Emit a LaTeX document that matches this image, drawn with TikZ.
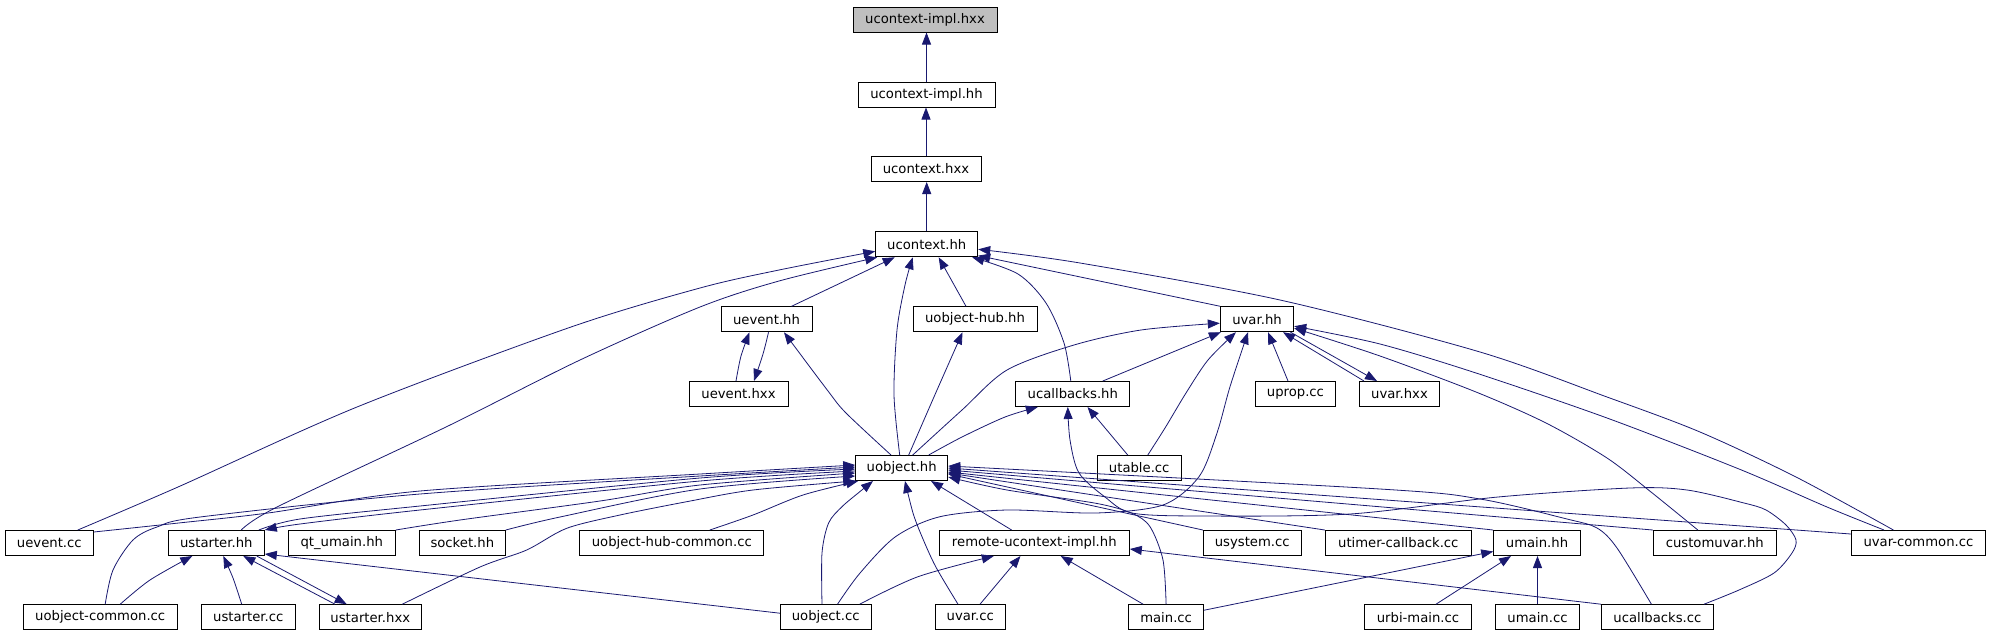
\documentclass[tikz,border=0pt]{standalone}
\usepackage{fontspec}
\setmainfont{DejaVu Sans}
\usetikzlibrary{arrows.meta}
\definecolor{edgeblue}{HTML}{191970}
\definecolor{rootgray}{HTML}{BFBFBF}
\begin{document}
\begin{tikzpicture}[x=1pt,y=-1pt,
  filebox/.style={draw=black,line width=1pt,rectangle,minimum height=25pt,inner sep=0pt,fill=white,font=\fontsize{13.2}{15}\selectfont},
  rootbox/.style={filebox,fill=rootgray},
  dep/.style={draw=edgeblue,line width=0.8pt,-{Triangle[length=12pt,width=9pt]}}
]
\useasboundingbox (0,0) rectangle (1989,635);

% nodes
\node[rootbox,minimum width=144pt] (ctxihxx) at (925,19.5) {ucontext-impl.hxx};
\node[filebox,minimum width=137pt] (ctxihh) at (926.5,94.5) {ucontext-impl.hh};
\node[filebox,minimum width=110pt] (ctxhxx) at (926,169) {ucontext.hxx};
\node[filebox,minimum width=102pt] (ctxhh) at (926.7,244.3) {ucontext.hh};

\node[filebox,minimum width=91pt] (uevhh) at (766.5,319.3) {uevent.hh};
\node[filebox,minimum width=124pt] (uobhubhh) at (975,319.3) {uobject-hub.hh};
\node[filebox,minimum width=73.4pt] (uvarhh) at (1257,319.2) {uvar.hh};

\node[filebox,minimum width=99pt] (uevhxx) at (738.5,394) {uevent.hxx};
\node[filebox,minimum width=114pt] (ucbhh) at (1072.8,394) {ucallbacks.hh};
\node[filebox,minimum width=80pt] (upropcc) at (1295.4,394) {uprop.cc};
\node[filebox,minimum width=80pt] (uvarhxx) at (1399.5,394) {uvar.hxx};

\node[filebox,minimum width=92pt] (uobhh) at (901.7,468) {uobject.hh};
\node[filebox,minimum width=84pt] (utablecc) at (1139.2,468) {utable.cc};

\node[filebox,minimum width=88pt] (uevcc) at (49.3,543) {uevent.cc};
\node[filebox,minimum width=96pt] (ustahh) at (216.3,543) {ustarter.hh};
\node[filebox,minimum width=107pt] (qtumain) at (341.8,543) {qt\_umain.hh};
\node[filebox,minimum width=86pt] (sockethh) at (462.3,543) {socket.hh};
\node[filebox,minimum width=184.3pt] (uobhubcc) at (671.8,543) {uobject-hub-common.cc};
\node[filebox,minimum width=190pt] (remotehh) at (1034.3,543) {remote-ucontext-impl.hh};
\node[filebox,minimum width=97.7pt] (usyscc) at (1252.2,543) {usystem.cc};
\node[filebox,minimum width=146pt] (utimercc) at (1398.3,543) {utimer-callback.cc};
\node[filebox,minimum width=86.6pt] (umainhh) at (1537,543) {umain.hh};
\node[filebox,minimum width=123pt] (customhh) at (1714.8,543) {customuvar.hh};
\node[filebox,minimum width=134pt] (uvarcomcc) at (1918.4,543) {uvar-common.cc};

\node[filebox,minimum width=153.7pt] (uobcomcc) at (100.2,617.2) {uobject-common.cc};
\node[filebox,minimum width=94pt] (ustacc) at (248.3,617.2) {ustarter.cc};
\node[filebox,minimum width=102pt] (ustahxx) at (370.3,617.2) {ustarter.hxx};
\node[filebox,minimum width=90.6pt] (uobcc) at (825.7,617.2) {uobject.cc};
\node[filebox,minimum width=70pt] (uvarcc) at (970.3,617.2) {uvar.cc};
\node[filebox,minimum width=75pt] (maincc) at (1166.1,617.2) {main.cc};
\node[filebox,minimum width=106.8pt] (urbicc) at (1418,617.2) {urbi-main.cc};
\node[filebox,minimum width=84pt] (umaincc) at (1537.5,617.2) {umain.cc};
\node[filebox,minimum width=112pt] (ucbcc) at (1657.4,617.2) {ucallbacks.cc};

% edges: top chain
\draw[dep] (ctxihh.north) -- (ctxihh.north |- ctxihxx.south);
\draw[dep] (ctxhxx.north) -- (ctxhxx.north |- ctxihh.south);
\draw[dep] (ctxhh.north) -- (ctxhh.north |- ctxhxx.south);

% into ucontext.hh
\draw[dep] plot[smooth] coordinates {([xshift=-16pt]uevcc.north east) (178,487) (357,407) (571,327) (700,288) (779,270) ([yshift=-7pt]ctxhh.west)};
\draw[dep] plot[smooth] coordinates {([xshift=25pt]ustahh.north) (277,507) (446,427) (580,360) (700,307) (779,281) ([xshift=2pt]ctxhh.south west)};
\draw[dep] ([xshift=25pt]uevhh.north) -- ([xshift=-32pt]ctxhh.south);
\draw[dep] plot[smooth] coordinates {([xshift=-2pt]uobhh.north) (894,395) (897,330) (905,285) ([xshift=-14pt]ctxhh.south)};
\draw[dep] ([xshift=-9pt]uobhubhh.north) -- ([xshift=12pt]ctxhh.south);
\draw[dep] plot[smooth] coordinates {([xshift=-2pt]ucbhh.north) (1064,343) (1046,303) (1018,274) ([xshift=-6pt]ctxhh.south east)};
\draw[dep] (uvarhh.north west) -- ([yshift=1.7pt]ctxhh.south east);
\draw[dep] plot[smooth] coordinates {([xshift=-25pt]uvarcomcc.north) (1796,477) (1700,432) (1607,397) (1480,352) (1280,300) (1080,263) ([yshift=-5pt]ctxhh.east)};

% uevent pair
\draw[dep] plot[smooth] coordinates {([xshift=-2.5pt]uevhxx.north) (741,356) ([xshift=-17pt]uevhh.south)};
\draw[dep] plot[smooth] coordinates {([xshift=2pt]uevhh.south) (763,354) ([xshift=15.5pt]uevhxx.north)};

% from uobject.hh upward
\draw[dep] plot[smooth] coordinates {([xshift=-10.7pt]uobhh.north) (846,413) (828,391) ([xshift=17.5pt]uevhh.south)};
\draw[dep] plot[smooth] coordinates {([xshift=7pt]uobhh.north) (935.7,393) ([xshift=-12.5pt]uobhubhh.south)};
\draw[dep] plot[smooth] coordinates {([xshift=11pt]uobhh.north) (962,410) (1007,370) (1074,345) (1141,330) ([yshift=-4pt]uvarhh.west)};
\draw[dep] plot[smooth] coordinates {([xshift=27pt]uobhh.north) (962,437) (1005,417) ([xshift=-35pt]ucbhh.south)};

% ucallbacks.hh / uvar.hh
\draw[dep] ([xshift=-11.5pt]utablecc.north) -- ([xshift=14.7pt]ucbhh.south);
\draw[dep] ([xshift=30pt]ucbhh.north) -- ([xshift=1pt]uvarhh.south west);
\draw[dep] plot[smooth] coordinates {([xshift=8.6pt]utablecc.north) (1165,428) (1186,393) (1208,360) ([xshift=-21pt]uvarhh.south)};
\draw[dep] plot[smooth] coordinates {([xshift=11.8pt]uobcc.north) (859.8,573.3) (895.5,536.7) (940,516.7) (1007,510) (1096,513) (1163,505) (1199,476.7) (1217,433) (1230,386.7) ([xshift=-9pt]uvarhh.south)};
\draw[dep] ([xshift=-7.4pt]upropcc.north) -- ([xshift=11pt]uvarhh.south);
\draw[dep] ([xshift=5pt]uvarhxx.north west) -- ([xshift=26pt]uvarhh.south);
\draw[dep] ([xshift=-3.7pt]uvarhh.south east) -- ([xshift=-22.5pt]uvarhxx.north);
\draw[dep] plot[smooth] coordinates {([xshift=-17pt]customhh.north) (1651,492) (1607,458) (1546,423) (1476,392) (1380,356) ([yshift=-9pt]uvarhh.east)};
\draw[dep] plot[smooth] coordinates {([xshift=-34.4pt]uvarcomcc.north) (1827,507) (1739,469) (1607,418) (1476,373) (1380,344) ([yshift=-7pt]uvarhh.east)};

% left side into uobject.hh
\draw[dep] plot[smooth] coordinates {([yshift=-3pt]uobhh.west) (700,481) (420,510) (300,524) (ustahh.north east)};
\draw[dep] plot[smooth] coordinates {([xshift=-6pt]ustahh.north east) (300,519) (420,506) (700,478) ([yshift=-1pt]uobhh.west)};
\draw[dep] plot[smooth] coordinates {([yshift=11pt]uevcc.east) (178.6,523) (268,513) (420,491) (700,474) ([yshift=3pt]uobhh.west)};
\draw[dep] plot[smooth] coordinates {([xshift=5pt]uobcomcc.north) (113,570) (133,540) (157,527) (200,517) (420,494) (700,476) ([yshift=1pt]uobhh.west)};
\draw[dep] plot[smooth] coordinates {(qtumain.north east) (460,520) (600,501) (700,485) ([yshift=-5pt]uobhh.west)};
\draw[dep] plot[smooth] coordinates {(sockethh.north east) (560,517) (700,489) ([yshift=-8pt]uobhh.west)};
\draw[dep] plot[smooth] coordinates {([xshift=32pt]ustahxx.north) (480,567) (526.7,550) (566.7,528.3) (620,515) (686.7,501.7) (753,490) (uobhh.south west)};
\draw[dep] plot[smooth] coordinates {([xshift=38pt]uobhubcc.north) (753,515) (803,495) ([xshift=3pt]uobhh.south west)};

% bottom into uobject.hh
\draw[dep] plot[smooth] coordinates {([xshift=-3.7pt]uobcc.north) (822,553) (828.6,523) (842,506.7) (859.8,491.7) ([xshift=-28.7pt]uobhh.south)};
\draw[dep] plot[smooth] coordinates {([xshift=-12.3pt]uvarcc.north) (935.7,566.7) (922,536.7) (913,513) ([xshift=3.3pt]uobhh.south)};
\draw[dep] ([xshift=-22.7pt]remotehh.north) -- ([xshift=29.3pt]uobhh.south);

% right side into uobject.hh
\draw[dep] (usyscc.north west) -- ([yshift=-6pt]uobhh.east);
\draw[dep] (utimercc.north west) -- ([yshift=-5pt]uobhh.east);
\draw[dep] (umainhh.north west) -- ([yshift=-4pt]uobhh.east);
\draw[dep] (customhh.north west) -- ([yshift=-2pt]uobhh.east);
\draw[dep] ([yshift=9pt]uvarcomcc.west) -- (uobhh.east);
\draw[dep] plot[smooth] coordinates {([xshift=-6pt]ucbcc.north) (1617,548) (1597,528) (1567,519) (1480,499) (1380,489) ([yshift=2pt]uobhh.east)};
\draw[dep] plot[smooth] coordinates {(maincc.north) (1163,560) (1150,526.7) (1132,513.3) (1096,503.3) (1007,490) ([yshift=-9pt]uobhh.east)};

% remote-ucontext-impl.hh
\draw[dep] plot[smooth] coordinates {([xshift=34pt]uobcc.north) (918,576.7) ([xshift=-40.5pt]remotehh.south)};
\draw[dep] ([xshift=9.7pt]uvarcc.north) -- ([xshift=-13.8pt]remotehh.south);
\draw[dep] ([xshift=-23pt]maincc.north) -- ([xshift=26.4pt]remotehh.south);
\draw[dep] (ucbcc.north west) -- ([yshift=-6pt]remotehh.east);

% umain.hh
\draw[dep] ([yshift=7pt]maincc.east) -- ([yshift=-8.5pt]umainhh.west);
\draw[dep] ([xshift=18pt]urbicc.north) -- ([xshift=-26pt]umainhh.south);
\draw[dep] (umaincc.north) -- (umaincc.north |- umainhh.south);

% ustarter group
\draw[dep] plot[smooth] coordinates {([xshift=20pt]uobcomcc.north) (150,580) ([xshift=-24pt]ustahh.south)};
\draw[dep] plot[smooth] coordinates {([xshift=-6.6pt]ustacc.north) (233,578) ([xshift=7pt]ustahh.south)};
\draw[dep] ([xshift=-35.3pt]ustahxx.north) -- ([xshift=27pt]ustahh.south);
\draw[dep] ([xshift=40.4pt]ustahh.south) -- ([xshift=-23.6pt]ustahxx.north);
\draw[dep] ([yshift=4pt]uobcc.west) -- ([yshift=2pt]ustahh.south east);

% ucallbacks.cc -> ucallbacks.hh
\draw[dep] plot[smooth] coordinates {([xshift=46.6pt]ucbcc.north) (1739,590) (1774,573) (1792,553) (1796,540) (1786,525) (1766,510) (1744,503) (1687,490) (1630,488) (1498,497) (1350,514) (1200,516) (1132,513) (1105,497) (1079,473) (1070,440) ([xshift=-5pt]ucbhh.south)};
\end{tikzpicture}
\end{document}
